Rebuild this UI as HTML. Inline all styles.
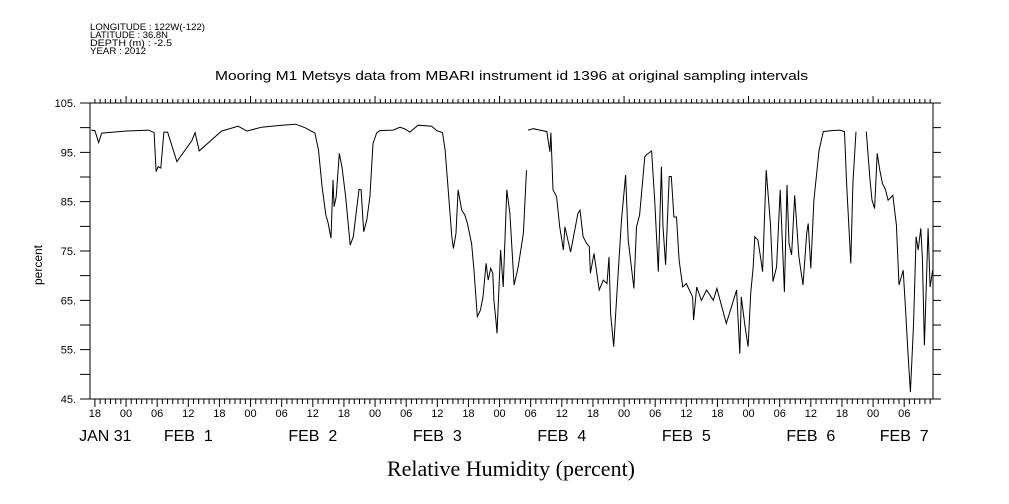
<!DOCTYPE html>
<html><head><meta charset="utf-8"><style>
body{margin:0;background:#fff;}
svg{display:block;font-family:"Liberation Sans",sans-serif;}
</style></head><body>
<svg id="chart" width="1009" height="504" viewBox="0 0 1009 504" xmlns="http://www.w3.org/2000/svg">
<g font-size="9.5" fill="#000">
<text x="90" y="30" textLength="115" lengthAdjust="spacingAndGlyphs">LONGITUDE : 122W(-122)</text>
<text x="90" y="38" textLength="78" lengthAdjust="spacingAndGlyphs">LATITUDE : 36.8N</text>
<text x="90" y="46" textLength="82" lengthAdjust="spacingAndGlyphs">DEPTH (m) : -2.5</text>
<text x="90" y="54" textLength="56" lengthAdjust="spacingAndGlyphs">YEAR : 2012</text>
</g>
<text x="215" y="80" textLength="593" lengthAdjust="spacingAndGlyphs" font-size="13">Mooring M1 Metsys data from MBARI instrument id 1396 at original sampling intervals</text>
<text transform="translate(42,265) rotate(-90)" text-anchor="middle" font-size="12">percent</text>
<text x="511" y="476" text-anchor="middle" font-size="22" font-family="Liberation Serif,serif">Relative Humidity (percent)</text>
<g id="axes"></g>
<path id="series" fill="none" stroke="#000" stroke-width="1"/>
</svg>
<script>
// hours since FEB 1 00:00 ; null marks a data gap
const hours=[-6.7,-6.0,-5.3,-4.7,-0.2,4.3,5.4,5.8,6.2,6.7,7.3,8.0,9.8,12.7,13.3,14.1,18.4,21.6,23.3,26.1,30.0,32.7,34.5,36.4,37.1,37.8,38.5,38.9,39.5,39.9,40.1,40.5,41.1,41.6,42.3,43.2,43.8,44.9,45.3,45.8,46.4,47.0,47.6,48.3,48.9,51.5,52.8,53.8,54.7,56.3,58.9,59.9,61.0,61.5,62.1,62.8,63.1,63.6,64.0,64.7,65.3,65.8,66.6,67.1,67.7,68.3,68.8,69.4,69.8,70.3,70.7,70.9,71.3,71.5,72.2,72.7,73.4,74.0,74.8,75.6,76.6,77.2,null,77.5,78.5,79.8,81.1,81.7,81.9,82.3,83.0,83.6,84.3,84.6,85.7,87.1,87.5,88.1,88.8,89.3,89.5,90.2,91.2,92.0,92.7,93.1,93.4,94.0,94.7,95.5,96.3,96.8,97.9,98.4,99.0,100.0,100.3,101.3,101.9,102.6,103.2,103.5,104.0,104.7,105.1,105.6,106.1,106.6,107.3,108.0,109.2,109.4,110.0,110.9,111.9,113.2,113.9,115.7,116.7,117.7,118.3,118.6,119.3,119.9,120.4,120.9,121.2,121.8,122.3,122.7,123.4,124.2,124.7,125.4,126.1,126.9,127.4,127.8,128.3,128.9,129.7,130.5,131.2,131.5,132.0,132.6,133.6,134.4,136.0,137.6,138.5,138.9,139.7,140.1,140.7,null,142.7,143.4,143.8,144.3,144.8,145.3,145.8,146.4,146.9,147.8,148.5,149.0,149.8,150.3,150.7,151.2,151.8,152.3,152.7,153.2,153.5,153.9,154.6,155.0,155.5];
const humidity=[99.5,99.4,97,98.9,99.3,99.5,99,91.1,92.1,91.8,99.1,99.1,93.1,97.4,99,95.3,99.3,100.3,99.3,100.1,100.5,100.7,100,98.9,95.5,88,82.3,80.9,77.6,89.4,84,86,94.8,92.1,86.3,76.2,77.9,87.5,87.4,78.9,81.3,86,96.8,98.9,99.4,99.5,100.1,99.7,99.1,100.5,100.3,99.4,99,95.5,87.4,77.9,75.5,78.6,87.4,83.3,82.3,80.6,76.5,70.8,61.7,63,65.7,72.5,69.1,71.5,70.5,65,61,58.3,75.2,67.7,87.4,82.6,68.1,71.8,78.6,91.4,null,99.5,99.8,99.5,99.2,95.1,99,87.4,86,79.9,75.2,79.9,74.8,82.6,83.3,77.9,76.5,75.9,70.5,74.5,67.1,69.1,68.4,73.8,62.3,55.6,67.7,81.3,90.4,77.2,67.4,79.9,82.3,94.1,94.5,95.3,85.3,70.8,92.1,79.9,72.2,90.1,90.1,81.9,81.9,73.2,67.7,68.4,65.7,61,67.7,65,67.1,65,67.4,60.3,63.7,67.1,54.2,65.7,59.9,55.6,66.4,71.8,77.9,77.2,73.8,70.8,91.4,80.6,68.8,71.8,87.4,66.7,88.4,76.5,74.2,86.3,73.8,68.1,78.6,80.6,71.5,85.3,95.5,99.2,99.4,99.5,99.2,88.7,72.5,88.7,99.2,null,99.2,89.4,85.3,83.6,94.8,91.4,88.7,87.4,85.3,86.3,80.3,68.1,71.1,62.3,54.9,46.4,59.9,77.9,75.2,79.6,73.5,55.9,79.6,67.7,71.1];
const yTicks=[105,95,85,75,65,55,45];
const hourLabels=["18","00","06","12"];
const dateLabels=["JAN 31","FEB  1","FEB  2","FEB  3","FEB  4","FEB  5","FEB  6","FEB  7"];
const dateLabelHours=[-4,12,36,60,84,108,132,150];

const L=90,R=933,T=103,B=399;
const H0=-6.95,H1=155.55;
function xs(h){return L+(h-H0)/(H1-H0)*(R-L);}
function ys(v){return B-(v-45)/(105-45)*(B-T);}
const NS="http://www.w3.org/2000/svg";
const ax=document.getElementById('axes');
function mk(tag,attrs,parent){const e=document.createElementNS(NS,tag);for(const k in attrs)e.setAttribute(k,attrs[k]);(parent||ax).appendChild(e);return e;}
let d=`M${L},${T}H${R}V${B}H${L}Z`;
for(let v=45;v<=105;v+=5){const y=ys(v);d+=`M${L-10},${y}H${L}M${R},${y}H${R+8}`;}
for(let h=-6;h<=155;h++){const x=xs(h);const maj=((h%6)+6)%6===0;const day=((h%24)+24)%24===0;
 d+=`M${x},${B}V${B+(maj?8:5)}M${x},${T}V${T-(day?7:4)}`;}
const frame=mk('path',{d:d,stroke:'#000',fill:'none','stroke-width':'1'});


yTicks.forEach(v=>{const t=mk('text',{x:L-14,y:ys(v)+4,'text-anchor':'end','font-size':'11'});t.textContent=v+'.';

});
for(let h=-6;h<=150;h+=6){const t=mk('text',{x:xs(h),y:417,'text-anchor':'middle','font-size':'11'});
t.textContent=hourLabels[(((h/6+1)%4)+4)%4];

}
dateLabels.forEach((s,i)=>{const t=mk('text',{x:xs(dateLabelHours[i]),y:441,'text-anchor':'middle','font-size':'16'});
t.style.whiteSpace='pre';t.textContent=s;

});
let p='',pen=false;
hours.forEach((h,i)=>{const v=humidity[i];if(h===null||v===null){pen=false;return;}
p+=(pen?'L':'M')+xs(h).toFixed(1)+','+ys(v).toFixed(1);pen=true;});
document.getElementById('series').setAttribute('d',p);
</script>
</body></html>
